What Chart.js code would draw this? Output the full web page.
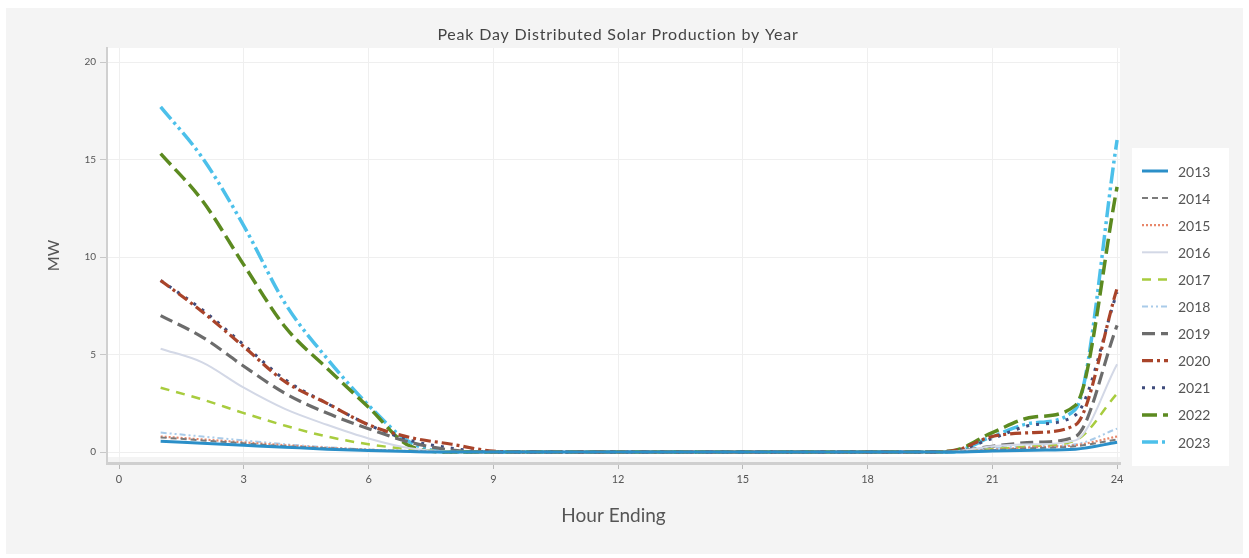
<!DOCTYPE html>
<html>
<head>
<meta charset="utf-8">
<script src="https://cdn.jsdelivr.net/npm/chart.js@4/dist/chart.umd.min.js"></script>
<style>
  html, body { margin: 0; padding: 0; background: #ffffff; }
  #wrap { width: 1249px; height: 558px; }
</style>
</head>
<body>
<div id="wrap"><canvas id="solarChart" width="1249" height="558"></canvas></div>
<script>
// Hour ending 1..24
const hours = [1, 2, 3, 4, 5, 6, 7, 8, 9, 10, 11, 12, 13, 14, 15, 16, 17, 18, 19, 20, 21, 22, 23, 24];
const xTicks = [0, 3, 6, 9, 12, 15, 18, 21, 24];
const yTicks = [0, 5, 10, 15, 20];
const years = ['2013', '2014', '2015', '2016', '2017', '2018', '2019', '2020', '2021', '2022', '2023'];

// MW values
const mw2013 = [0.55, 0.45, 0.35, 0.25, 0.15, 0.08, 0.03, 0, 0, 0, 0, 0, 0, 0, 0, 0, 0, 0, 0, 0, 0.05, 0.1, 0.15, 0.5];
const mw2014 = [0.75, 0.6, 0.45, 0.3, 0.2, 0.1, 0.04, 0, 0, 0, 0, 0, 0, 0, 0, 0, 0, 0, 0, 0.01, 0.1, 0.2, 0.3, 0.65];
const mw2015 = [0.8, 0.65, 0.5, 0.35, 0.22, 0.12, 0.05, 0, 0, 0, 0, 0, 0, 0, 0, 0, 0, 0, 0, 0.01, 0.12, 0.25, 0.35, 0.8];
const mw2016 = [5.3, 4.6, 3.3, 2.2, 1.4, 0.7, 0.2, 0.02, 0, 0, 0, 0, 0, 0, 0, 0, 0, 0, 0, 0.02, 0.3, 0.4, 0.6, 4.5];
const mw2017 = [3.3, 2.7, 2.0, 1.35, 0.8, 0.4, 0.15, 0.02, 0, 0, 0, 0, 0, 0, 0, 0, 0, 0, 0, 0.02, 0.15, 0.3, 0.6, 3.0];
const mw2018 = [1.0, 0.8, 0.6, 0.4, 0.25, 0.13, 0.05, 0, 0, 0, 0, 0, 0, 0, 0, 0, 0, 0, 0, 0.01, 0.2, 0.3, 0.4, 1.2];
const mw2019 = [7.0, 5.9, 4.4, 3.0, 2.0, 1.2, 0.5, 0.1, 0, 0, 0, 0, 0, 0, 0, 0, 0, 0, 0, 0.02, 0.3, 0.5, 0.8, 6.5];
const mw2020 = [8.8, 7.2, 5.4, 3.6, 2.5, 1.4, 0.75, 0.4, 0.05, 0, 0, 0, 0, 0, 0, 0, 0, 0, 0, 0.05, 0.8, 1.0, 1.4, 8.4];
const mw2021 = [8.8, 7.3, 5.5, 3.7, 2.5, 1.4, 0.6, 0.2, 0, 0, 0, 0, 0, 0, 0, 0, 0, 0, 0, 0.03, 0.7, 1.4, 1.9, 8.2];
const mw2022 = [15.3, 12.9, 9.6, 6.4, 4.3, 2.3, 0.3, 0, 0, 0, 0, 0, 0, 0, 0, 0, 0, 0, 0, 0.05, 1.0, 1.8, 2.4, 13.6];
const mw2023 = [17.7, 15.1, 11.6, 7.6, 4.8, 2.4, 0.5, 0, 0, 0, 0, 0, 0, 0, 0, 0, 0, 0, 0, 0, 0.8, 1.5, 2.2, 16.0];

const seriesValues = [mw2013, mw2014, mw2015, mw2016, mw2017, mw2018, mw2019, mw2020, mw2021, mw2022, mw2023];

// line styles per year
const colors = ['#2b8fc8', '#7b7b7b', '#e8876a', '#d3d8e6', '#a8cc3e', '#a9cbe9', '#6c6c6c', '#a9442a', '#3f4c7c', '#5c8a20', '#4cc0ea'];
const widths = [3, 2, 2.2, 2, 2.5, 2, 3.2, 3.2, 3, 3.5, 3.5];
const dashes = [[], [6, 4], [2, 2], [], [9, 7], [6, 3, 2, 3, 2, 3], [13, 6], [11, 4, 3, 4], [3, 7], [15, 6], [16, 4, 3, 4, 3, 4]];

const font = 'Lato, "Open Sans", sans-serif';
const chartTitle = 'Peak Day Distributed Solar Production by Year';

// grey page + white plot area + white legend box + title
const backdrop = {
  id: 'backdrop',
  beforeDraw(chart) {
    const { ctx, chartArea } = chart;
    ctx.save();
    ctx.fillStyle = '#ffffff';
    ctx.fillRect(0, 0, chart.width, chart.height);
    ctx.fillStyle = '#f4f4f4';
    ctx.fillRect(6, 8, chart.width - 12, chart.height - 12);
    ctx.fillStyle = '#ffffff';
    ctx.fillRect(chartArea.left, chartArea.top, chartArea.right - chartArea.left, chartArea.bottom - chartArea.top - 6);
    ctx.fillRect(1132, 148, 97, 318);
    ctx.fillStyle = '#444444';
    ctx.font = '16px ' + font;
    ctx.letterSpacing = '0.8px';
    ctx.textAlign = 'center';
    ctx.textBaseline = 'middle';
    ctx.fillText(chartTitle, 618, 35);
    ctx.restore();
  }
};

// legend drawn on the right, one row per year
const sideLegend = {
  id: 'sideLegend',
  afterDraw(chart) {
    const ctx = chart.ctx;
    ctx.save();
    chart.data.datasets.forEach((ds, i) => {
      const y = 171 + i * 27.1;
      ctx.beginPath();
      ctx.strokeStyle = ds.borderColor;
      ctx.lineWidth = ds.borderWidth;
      ctx.setLineDash(ds.borderDash);
      ctx.moveTo(1142, y);
      ctx.lineTo(1168, y);
      ctx.stroke();
      ctx.setLineDash([]);
      ctx.fillStyle = '#555555';
      ctx.font = '14px ' + font;
      ctx.textBaseline = 'middle';
      ctx.fillText(ds.label, 1178, y + 1);
    });
    ctx.restore();
  }
};

const datasets = years.map((year, i) => ({
  label: year,
  data: hours.map((h, j) => ({ x: h, y: seriesValues[i][j] })),
  borderColor: colors[i],
  backgroundColor: colors[i],
  borderWidth: widths[i],
  borderDash: dashes[i],
  pointRadius: 0,
  fill: false,
  cubicInterpolationMode: 'monotone'
}));

new Chart(document.getElementById('solarChart'), {
  type: 'line',
  data: { datasets: datasets },
  options: {
    responsive: false,
    animation: false,
    layout: { padding: { left: 0, right: 129, top: 48, bottom: 0 } },
    plugins: {
      legend: { display: false },
      tooltip: { enabled: false },
      title: { display: false }
    },
    scales: {
      x: {
        type: 'linear',
        min: -0.29,
        max: 24.07,
        afterBuildTicks: (scale) => { scale.ticks = xTicks.map(v => ({ value: v })); },
        afterFit: (scale) => { scale.height = 95; },
        grid: { color: '#efefef', tickColor: '#b8b8b8', tickLength: 6, drawOnChartArea: true },
        border: { color: '#cfcfcf', width: 3 },
        ticks: { color: '#555555', font: { family: font, size: 11 }, padding: 4 },
        title: {
          display: true,
          text: 'Hour Ending',
          color: '#555555',
          font: { family: font, size: 19 },
          padding: { top: 0, bottom: 31 }
        }
      },
      y: {
        min: -0.56,
        max: 20.72,
        afterBuildTicks: (scale) => { scale.ticks = yTicks.map(v => ({ value: v })); },
        afterFit: (scale) => { scale.width = 107; },
        grid: { color: '#efefef', tickColor: '#c8c8c8', tickLength: 7 },
        border: { color: '#d0d0d0', width: 2 },
        ticks: { color: '#555555', font: { family: font, size: 10 }, padding: 4 },
        title: {
          display: true,
          text: 'MW',
          color: '#555555',
          font: { family: font, size: 16 },
          padding: { top: 44, bottom: 0 }
        }
      }
    }
  },
  plugins: [backdrop, sideLegend]
});
</script>
</body>
</html>
